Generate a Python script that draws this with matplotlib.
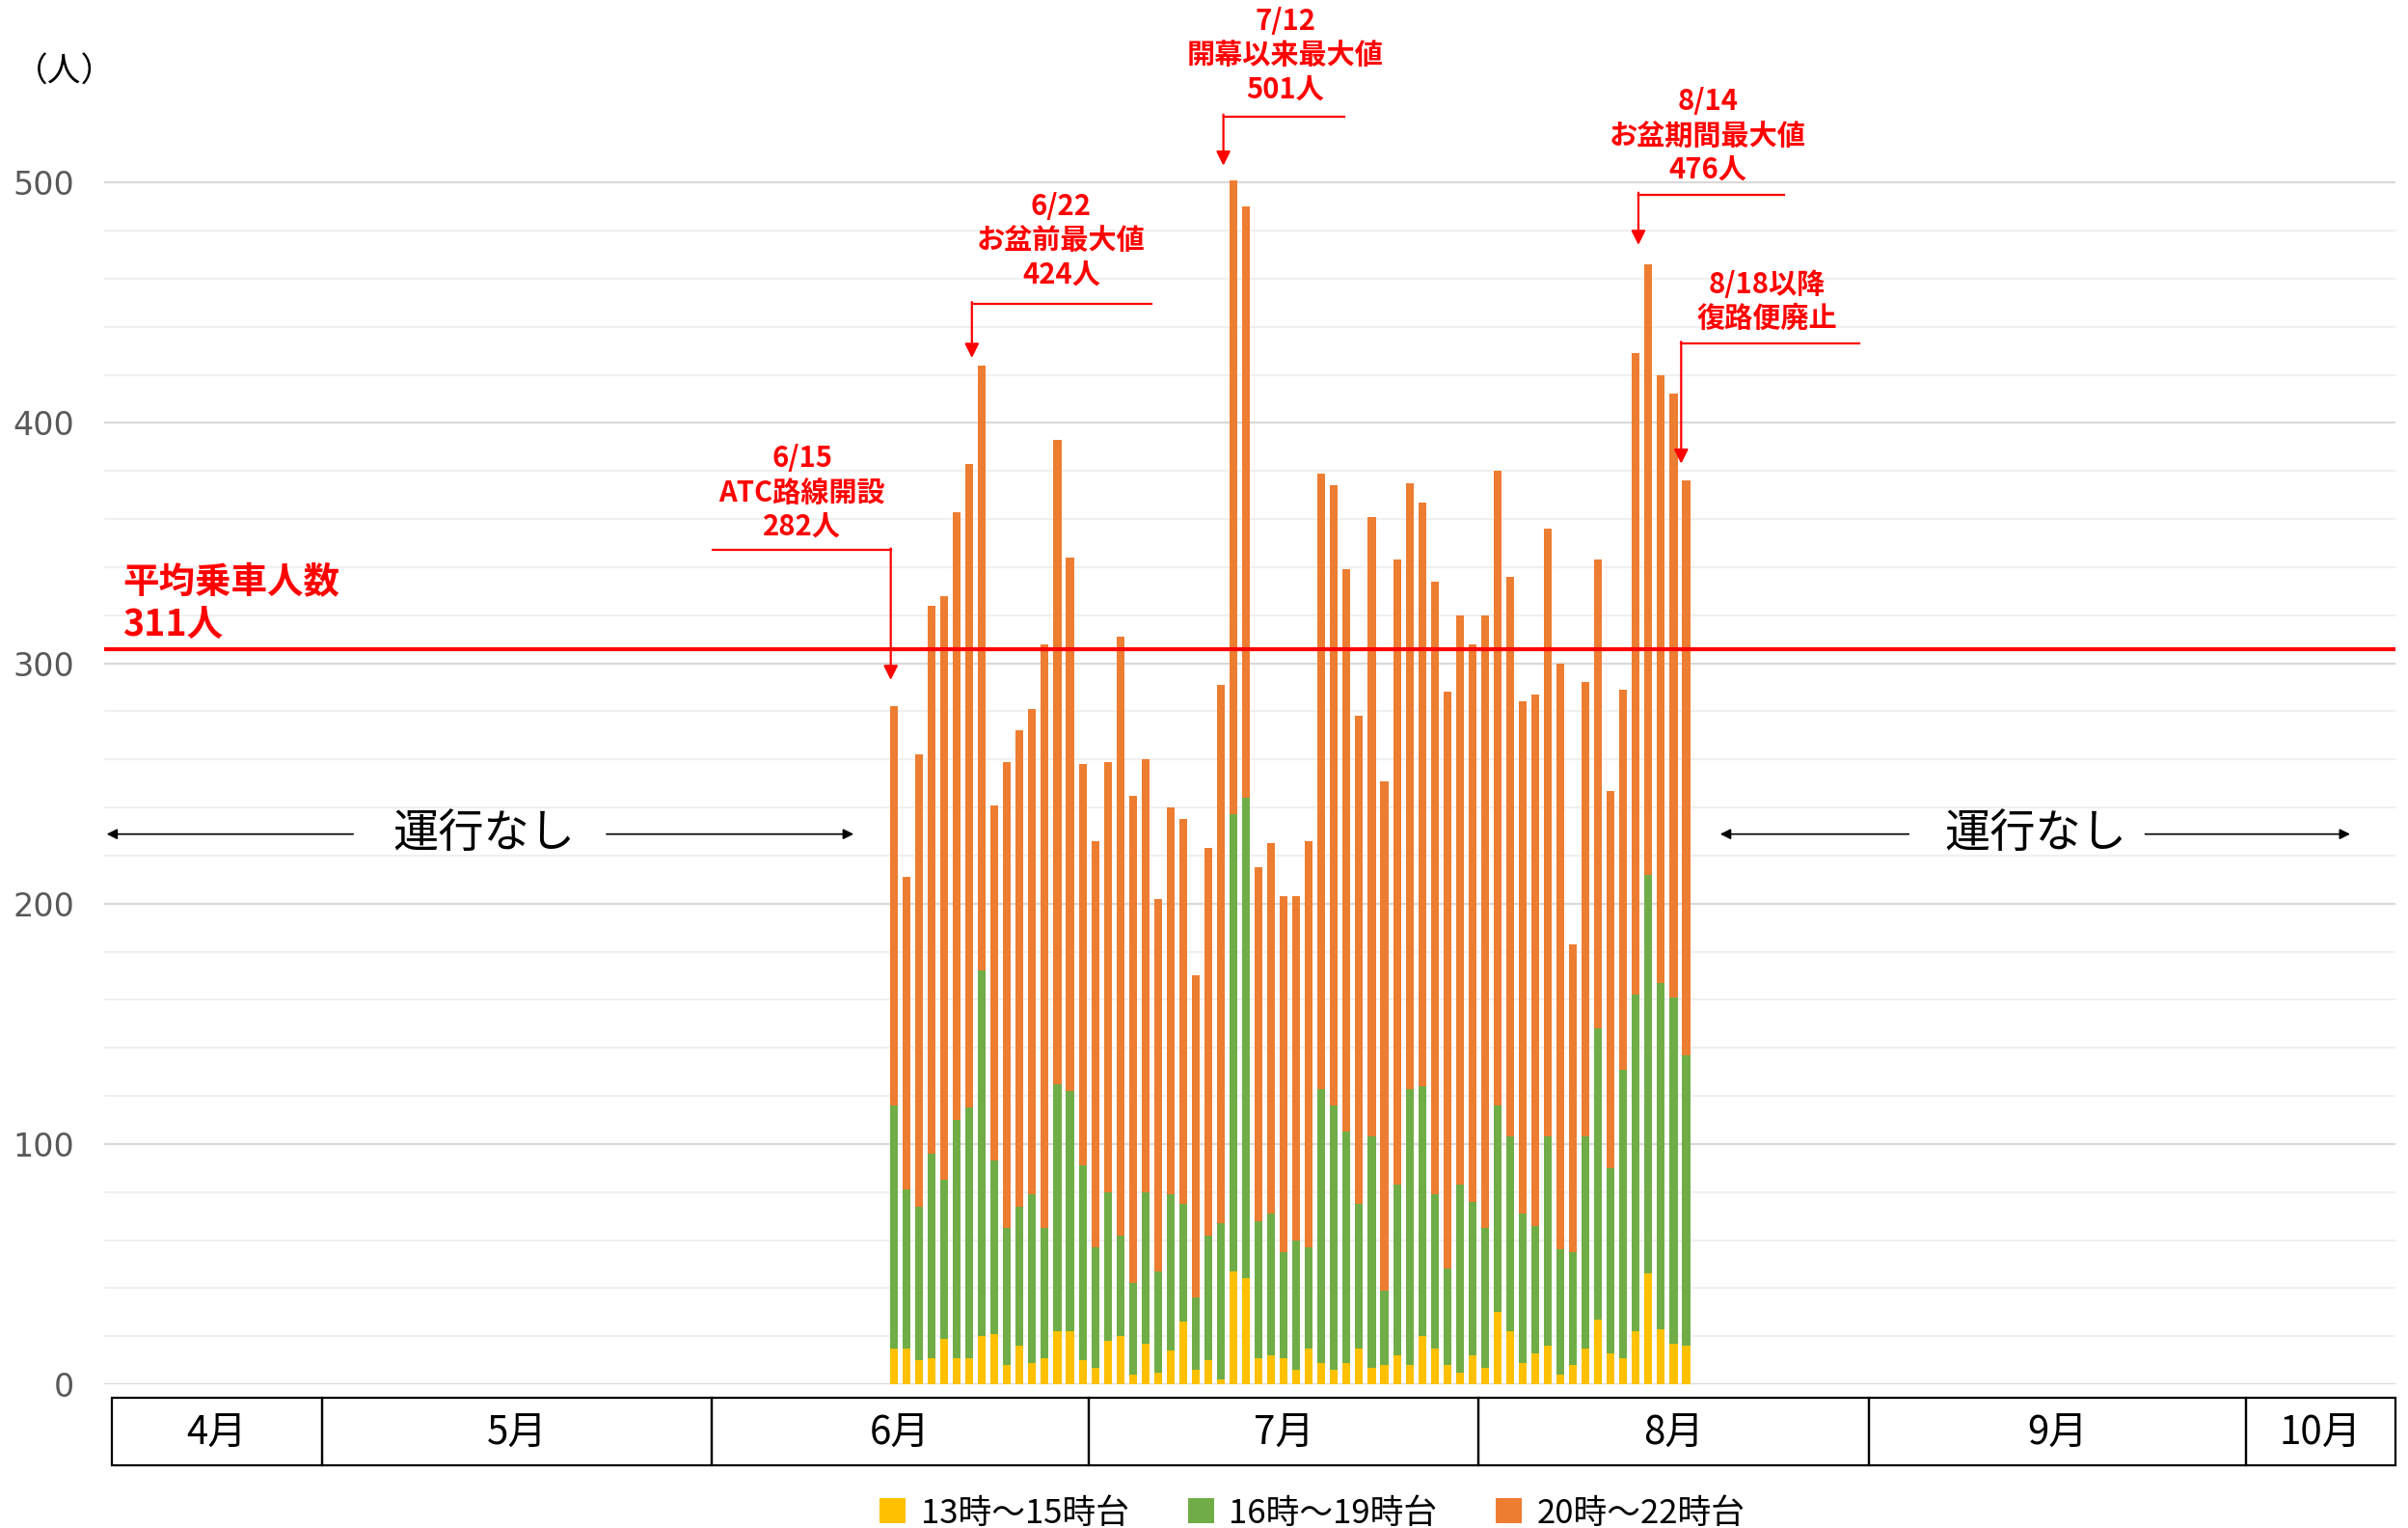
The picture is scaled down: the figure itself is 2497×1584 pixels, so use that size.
import numpy as np
import pandas as pd
import matplotlib
matplotlib.use("Agg")
import matplotlib.pyplot as plt
from matplotlib.patches import Rectangle, Patch

plt.rcParams['font.family'] = ['Noto Sans CJK JP', 'DejaVu Sans']

# ---------------- data ----------------
start_date = "2023-06-15"
n_days = 64
yellow = [15, 15, 10, 11, 19, 11, 11, 20, 21, 8, 16, 9, 11, 22, 22, 10,
          7, 18, 20, 4, 17, 5, 14, 26, 6, 10, 2, 47, 44, 11, 12, 11,
          6, 15, 9, 6, 9, 15, 7, 8, 12, 8, 20, 15, 8, 5, 12, 7,
          30, 22, 9, 13, 16, 4, 8, 15, 27, 13, 11, 22, 46, 23, 17, 16]
green = [101, 66, 64, 85, 66, 99, 104, 152, 72, 57, 58, 70, 54, 103, 100, 81,
         50, 62, 42, 38, 63, 42, 65, 49, 30, 52, 65, 190, 200, 57, 59, 44,
         54, 42, 114, 110, 96, 60, 96, 31, 71, 115, 104, 64, 40, 78, 64, 58,
         86, 81, 62, 53, 87, 52, 47, 88, 121, 77, 120, 140, 166, 144, 144, 121]
orange = [166, 130, 188, 228, 243, 253, 268, 252, 148, 194, 198, 202, 243, 268, 222, 167,
          169, 179, 249, 203, 180, 155, 161, 160, 134, 161, 224, 264, 246, 147, 154, 148,
          143, 169, 256, 258, 234, 203, 258, 212, 260, 252, 243, 255, 240, 237, 232, 255,
          264, 233, 213, 221, 253, 244, 128, 189, 195, 157, 158, 267, 254, 253, 251, 239]
series_labels = ["13時～15時台", "16時～19時台", "20時～22時台"]
series_colors = ["#FFC000", "#70AD47", "#ED7D31"]

months = ["4月", "5月", "6月", "7月", "8月", "9月", "10月"]
month_starts = ["2023-04-01", "2023-05-01", "2023-06-01", "2023-07-01",
                "2023-08-01", "2023-09-01", "2023-10-01"]
y_ticks = [0, 100, 200, 300, 400, 500]

avg_label = ["平均乗車人数", "311人"]
avg_line_value = 306

# annotations: (text, text_x_day, text_y, arrow_x_day, elbow_end_x_day, elbow_y, tip_y)
annotations = [
    ("6/15\nATC路線開設\n282人", 68.2, 371, 75.25, 61.1, 347, 293),
    ("6/22\nお盆前最大値\n424人", 88.8, 476, 81.7, 96.0, 449.5, 427),
    ("7/12\n開幕以来最大値\n501人", 106.6, 553, 101.7, 111.3, 527.5, 507),
    ("8/14\nお盆期間最大値\n476人", 140.2, 519.5, 134.7, 146.3, 495, 474),
    ("8/18以降\n復路便廃止", 144.9, 450.5, 138.1, 152.3, 433, 383),
]

# ---------------- helpers ----------------
base = pd.Timestamp("2023-04-01")
def day_of(s):
    return (pd.Timestamp(s) - base).days

dates = pd.date_range(start_date, periods=n_days)
x = np.array([(d - base).days for d in dates]) + 0.5
y_arr = np.array(yellow)
g_arr = np.array(green)
o_arr = np.array(orange)

W, H = 2497, 1584
fig = plt.figure(figsize=(W / 100, H / 100), dpi=100)
px_per_unit = 2.4916
ax_left, ax_right, ax_zero = 108, 2484, 1435
ax = fig.add_axes([ax_left / W, 1 - ax_zero / H, (ax_right - ax_left) / W, ax_zero / H])
ax.set_xlim(12.7, 194.9)
ax.set_ylim(0, ax_zero / px_per_unit)
for s in ax.spines.values():
    s.set_visible(False)
ax.set_xticks([])
ax.set_yticks(y_ticks)
ax.set_yticklabels([str(v) for v in y_ticks], family='DejaVu Sans', fontsize=24, color='#595959')
ax.tick_params(axis='y', length=0, pad=22)

# gridlines
for v in range(0, 501, 20):
    c = '#D9D9D9' if v % 100 == 0 else '#F0F0F0'
    ax.axhline(v, color=c, lw=1.6, zorder=0)

# bars
bw = 0.62
ax.bar(x, y_arr, width=bw, color=series_colors[0], zorder=2)
ax.bar(x, g_arr, width=bw, bottom=y_arr, color=series_colors[1], zorder=2)
ax.bar(x, o_arr, width=bw, bottom=y_arr + g_arr, color=series_colors[2], zorder=2, clip_on=False)

# average line
ax.axhline(avg_line_value, color='#FF0000', lw=3.0, zorder=3)
ax.text(14.2, 326, avg_label[0], color='#FF0000', fontsize=27, fontweight='bold', va='bottom', ha='left')
ax.text(14.2, 308, avg_label[1], color='#FF0000', fontsize=27, fontweight='bold', va='bottom', ha='left')

# unit label
fig.text(67 / W, 1 - 75 / H, "（人）", fontsize=25, ha='center', va='center', color='black')

# annotations
for txt, tx, ty, axx, ex, ey, tipy in annotations:
    ax.text(tx, ty, txt, color='#FF0000', fontsize=21, fontweight='bold', ha='center', va='center',
            linespacing=1.22)
    ax.plot([ex, axx], [ey, ey], color='#FF0000', lw=1.6, clip_on=False, zorder=4)
    ax.annotate('', xy=(axx, tipy), xytext=(axx, ey + 0.8),
                arrowprops=dict(arrowstyle='-|>', color='#FF0000', lw=1.6, mutation_scale=22,
                                shrinkA=0, shrinkB=0), annotation_clip=False, zorder=4)

# 運行なし with arrows
no_service = [
    (42.9, (32.5, 12.9), (52.65, 72.3)),
    (166.3, (156.2, 141.2), (175.0, 191.3)),
]
ny = 228.9
for cx, (l0, l1), (r0, r1) in no_service:
    ax.text(cx, ny, "運行なし", fontsize=34, ha='center', va='center', color='black')
    for a0, a1 in [(l0, l1), (r0, r1)]:
        ax.annotate('', xy=(a1, ny), xytext=(a0, ny),
                    arrowprops=dict(arrowstyle='-|>', color='black', lw=1.2, mutation_scale=16,
                                    shrinkA=0, shrinkB=0), annotation_clip=False)

# month boxes
box_top = (ax_zero - 1449) / px_per_unit
box_bot = (ax_zero - 1519) / px_per_unit
edges = [13.3] + [day_of(m) for m in month_starts[1:]] + [194.9]
for i, m in enumerate(months):
    x0, x1 = edges[i], edges[i + 1]
    ax.add_patch(Rectangle((x0, box_bot), x1 - x0, box_top - box_bot, fill=False,
                           edgecolor='black', lw=1.6, clip_on=False))
    ax.text((x0 + x1) / 2, (box_top + box_bot) / 2 - 1.0, m, fontsize=29, ha='center', va='center',
            color='black', clip_on=False)

# legend
handles = [Patch(facecolor=c, edgecolor='none') for c in series_colors]
fig.legend(handles, series_labels, loc='center', bbox_to_anchor=(1361 / W, 1 - 1569 / H),
           ncol=3, frameon=False, fontsize=25, handlelength=0.78, handleheight=0.78,
           handletextpad=0.45, columnspacing=1.75, borderaxespad=0, borderpad=0)

fig.savefig("out.png", dpi=100)
